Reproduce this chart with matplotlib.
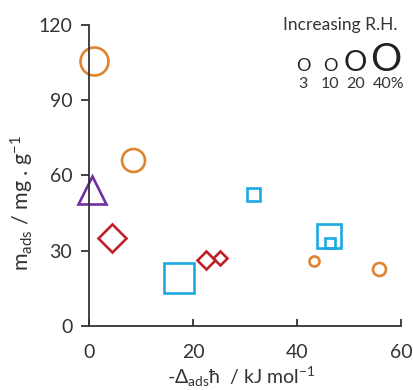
import matplotlib
matplotlib.use("Agg")
import matplotlib.pyplot as plt

plt.rcParams['font.family'] = ['Lato', 'DejaVu Sans']
plt.rcParams['mathtext.fontset'] = 'custom'
plt.rcParams['mathtext.rm'] = 'Lato'
plt.rcParams['mathtext.it'] = 'Lato:italic'

# data: (x = -Δads h / kJ mol-1, y = m_ads / mg g-1, marker size in px)
orange_x = [1.0, 8.4, 43.3, 55.8]
orange_y = [105.7, 66.1, 25.9, 22.7]
orange_s = [28, 23, 10, 13]

purple_x = [0.6]
purple_y = [54.2]
purple_s = [28]

red_x = [4.4, 22.5, 25.2]
red_y = [35.0, 26.3, 27.0]
red_s = [28, 18, 14]

blue_x = [17.4, 31.6, 46.2, 46.3]
blue_y = [19.1, 52.6, 35.7, 33.2]
blue_s = [30, 13, 24, 10]

xticks = [0, 20, 40, 60]
yticks = [0, 30, 60, 90, 120]

rh_labels = ['3', '10', '20', '40%']

DPI = 100
px = 72.0 / DPI

fig = plt.figure(figsize=(4.14, 3.9), dpi=DPI)
ax = fig.add_axes([89/414, 64/390, (401-89)/414, (326-24.7)/390])

C_OR = '#E0832E'
C_PU = '#7030A0'
C_RD = '#C0202A'
C_BL = '#1CA9E1'
LW = 1.9

def draw(xs, ys, ss, marker, color, scale=1.0):
    for x, y, s in zip(xs, ys, ss):
        ax.plot([x], [y], marker=marker, ms=s * px * scale, mfc='none',
                mec=color, mew=LW, ls='none', clip_on=False)

draw(orange_x, orange_y, orange_s, 'o', C_OR)
draw(purple_x, purple_y, purple_s, '^', C_PU)
draw(red_x, red_y, red_s, 'D', C_RD, scale=1/1.414)
draw(blue_x, blue_y, blue_s, 's', C_BL)

ax.set_xlim(0, 60)
ax.set_ylim(0, 120)
ax.set_xticks(xticks)
ax.set_yticks(yticks)
for sp in ['top', 'right']:
    ax.spines[sp].set_visible(False)
for sp in ['left', 'bottom']:
    ax.spines[sp].set_color('#333333')
    ax.spines[sp].set_linewidth(1.3)
ax.tick_params(axis='x', direction='in', length=5, width=1.3, color='#333333',
               labelsize=14, pad=13, labelcolor='#333333')
ax.tick_params(axis='y', direction='out', length=6, width=1.3, color='#333333',
               labelsize=14, pad=6, labelcolor='#333333')

ax.set_ylabel(r'm$_{\mathrm{ads}}$ / mg . g$^{\mathrm{-1}}$', fontsize=15.5,
              color='#333333')
ax.yaxis.set_label_coords(-0.17, 0.41)
ax.set_xlabel(r'-$\Delta_{\mathrm{ads}}$ħ  / kJ mol$^{\mathrm{-1}}$', fontsize=14,
              color='#333333')
ax.xaxis.set_label_coords(0.487, -0.128)

# Relative humidity key
fig.text(340/414, 1 - 30/390, 'Increasing R.H.', fontsize=12.5, color='#333333',
         ha='center', va='baseline')
o_x = [303, 330, 355, 386]
o_fs = [13, 13, 21, 28]
for xx, fs in zip(o_x, o_fs):
    fig.text(xx/414, 1 - 71/390, 'O', fontsize=fs, color='#222222',
             ha='center', va='baseline')
lab_x = [303, 330, 356, 389]
for xx, lab in zip(lab_x, rh_labels):
    fig.text(xx/414, 1 - 88/390, lab, fontsize=11.5, color='#333333',
             ha='center', va='baseline')

fig.savefig('out.png', dpi=DPI)
